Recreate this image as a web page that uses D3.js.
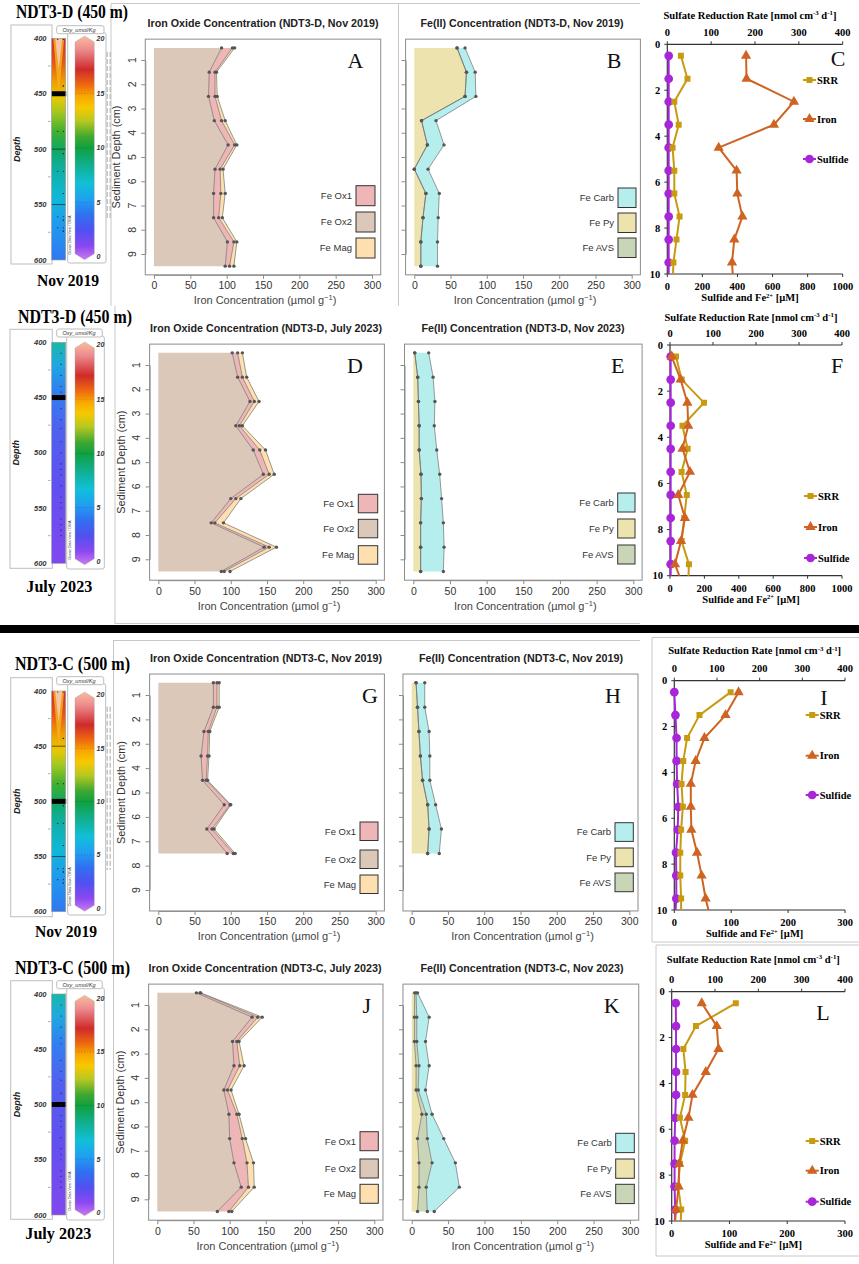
<!DOCTYPE html>
<html><head><meta charset="utf-8">
<script src="https://cdn.jsdelivr.net/npm/d3@7/dist/d3.min.js"></script>
<style>html,body{margin:0;padding:0;background:#fff;} svg{display:block}</style>
</head><body>
<svg id="fig" width="859" height="1264" xmlns="http://www.w3.org/2000/svg"></svg>
<script>
// ================= DATA =================
const depths10 = [0.5,1.5,2.5,3.5,4.5,5.5,6.5,7.5,8.5,9.5];
const depths8  = [0.5,1.5,2.5,3.5,4.5,5.5,6.5,7.5];
const depthsRate = [0.5,1.5,2.5,3.5,4.5,5.5,6.5,7.5,8.5,9.5,10.5];
const feXTicks = [0,50,100,150,200,250,300];
const feYTicks = [1,2,3,4,5,6,7,8,9];
const rateYTicks = [0,2,4,6,8,10];
const srrTicks = [0,100,200,300,400];
const conc1000Ticks = [0,200,400,600,800,1000];
const conc300Ticks = [0,100,200,300];
const odvDepthTicks = [400,450,500,550,600];
const odvMinorTicks = [425,475,525,575];
const odvOxyTicks = [0,5,10,15,20];
const oxideNames = ["Fe Ox1","Fe Ox2","Fe Mag"];
const fe2Names = ["Fe Carb","Fe Py","Fe AVS"];
const rateNames = ["SRR","Iron","Sulfide"];

// Panel A  (NDT3-D, Nov 2019) iron oxides, umol/g
const A_ox2 = [93,76,75,83,102,84,82,82,101,98];
const A_ox1 = [15,8,9,10,9,7,10,7,9,6];
const A_mag = [3,2,3,5,3,4,6,5,4,6];
// Panel B  Fe(II)
const B_py   = [59,72,70,10,18,0,16,12,9,9];
const B_avs  = [0,0,0,0,0,0,0,0,0,0];
const B_carb = [11,12,15,20,23,19,18.5,21,23,23];
// Panel C  rates
const C_srr  = [31,46,16,26,12,16,16,28,21,14,12];
const C_iron = [449,452,722,608,293,395,399,428,382,369,377];
const C_sulf = [8,8,8,8,8,8,8,8,8,8,8];
// Panel D  (NDT3-D, July 2023)
const D_ox2 = [102,109.5,126.5,107,131,145,100,73,146,87];
const D_ox1 = [7.5,6.5,6,5,9,8,7,5,7,4];
const D_mag = [6.5,6,6.5,4,8,7,7,12,10,8];
// Panel E
const E_py   = [2,6,7,8,8,10.5,11,10,10,10];
const E_avs  = [0,0,0,0,0,0,0,0,0,0];
const E_carb = [19,21,22.5,20.6,24,25.5,27.6,31,32,31];
// Panel F
const F_srr  = [14,27,79,29,41,27,39,33,27,44,42];
const F_iron = [10,62,101,106,73,116,48,87,64,29,79];
const F_sulf = [4,4,4,4,4,4,4,4,4,4,4];
// Panel G  (NDT3-C, Nov 2019)
const G_ox2 = [76,76,63,59,61,91,67,95];
const G_ox1 = [5,5,6,9,5,8,7,8.5];
const G_mag = [3,3,2,2,2,1,3,2.5];
// Panel H
const H_py   = [6,8,10,12,15,22,24,22];
const H_avs  = [0,0,0,0,0,0,0,0];
const H_carb = [12,10,14,13,10,11,17,16];
// Panel I
const I_srr  = [132,59,30,21,17,20,16,14,14,16,16];
const I_iron = [113,90,53,37.5,29,29,30,40,48,55,65];
const I_sulf = [0,2,4,4,5,7,6,3,3.5,3.5,1];
// Panel J  (NDT3-C, July 2023)
const J_ox2 = [54,131,104,106,92,99,100,106,116,83];
const J_ox1 = [5,8,6,8,5,11,17.5,18,10,16];
const J_mag = [1,6,3,6,5,3,4.5,9,8,4];
// Panel K
const K_py   = [4,3.7,3.7,6,6,14,8,10,10,8];
const K_avs  = [2,3.3,3.3,4,3,6,13.5,18,10,13.5];
const K_carb = [2,17,12,14,10,8,22.5,32,45.5,9.5];
// Panel L
const L_srr  = [148,56,27,32,31,19,31,19,15,22,20];
const L_iron = [52,78,81,59,36,29,19,13,12,7.5,4.5];
const L_sulf = [7,7.5,7.5,7.5,7.5,6,5,5,5,6,5];
// ODV sample depths (m)
const odvSamplesNov = [401,443,484,504,520,540,561,564,571,574];
const odvSamplesJul = [410,420,430,440,445,460,470,478,490,500,510,515,520,530,540,545,550,560,565,570,575];

// ================= STYLES =================
const SANS = "'Liberation Sans', Arial, Helvetica, sans-serif";
const SERIF = "'Liberation Serif', 'Times New Roman', serif";
const oxFill = {ox1:"#eeb6b6", ox2:"#dcc8b9", mag:"#fddfb0"};
const fe2Fill = {carb:"#b6eeee", py:"#ece3af", avs:"#c8d6b7"};
const rateColor = {srr:"#c89a10", iron:"#cf6422", sulf:"#a826da"};

const svg = d3.select("#fig");
const defs = svg.append("defs");

// ================= FRAMES / SEPARATOR =================
const frameCol = "#c8c8c8";
function hline(x1,x2,y,c,w){svg.append("line").attr("x1",x1).attr("x2",x2).attr("y1",y).attr("y2",y).attr("stroke",c||frameCol).attr("stroke-width",w||1);}
function vline(x,y1,y2,c,w){svg.append("line").attr("x1",x).attr("x2",x).attr("y1",y1).attr("y2",y2).attr("stroke",c||frameCol).attr("stroke-width",w||1);}
hline(111,640,3.5); vline(111,3.5,306); vline(398.5,3.5,306);
vline(115,306,624); hline(115,640,623.5);
vline(113.5,640,1264); hline(113.5,640,640.5);
hline(652,859,637.5); vline(652,637.5,942); hline(652,859,942);
hline(656,859,945); vline(656,945,1256); hline(656,859,1256);
svg.append("rect").attr("x",0).attr("y",625).attr("width",859).attr("height",8).attr("fill","#000");

// ================= ODV widgets =================
function grad(id, stops){
  const lg = defs.append("linearGradient").attr("id",id).attr("x1",0).attr("y1",0).attr("x2",0).attr("y2",1);
  stops.forEach(s=>lg.append("stop").attr("offset",s[0]).attr("stop-color",s[1]));
}
grad("cbar",[[0,"#f9bd9a"],[0.06,"#ec8c90"],[0.15,"#d02a2a"],[0.22,"#ee6a10"],[0.27,"#f8a800"],[0.32,"#f8c800"],[0.38,"#b8c820"],[0.45,"#40a830"],[0.5,"#10a040"],[0.58,"#10b090"],[0.66,"#10c0d8"],[0.73,"#20a0f0"],[0.8,"#3070f0"],[0.87,"#5050f0"],[0.94,"#8a48f0"],[1,"#cc78f0"]]);
grad("stripNov",[[0,"#d42a2a"],[0.1,"#e65018"],[0.2,"#f0a000"],[0.27,"#e8c800"],[0.33,"#a8c820"],[0.42,"#40b030"],[0.5,"#10a860"],[0.6,"#10b0a8"],[0.72,"#10b8d8"],[0.85,"#2098f0"],[1,"#3078f0"]]);
grad("stripJul",[[0,"#18b8a8"],[0.1,"#20a8e0"],[0.22,"#3080f0"],[0.4,"#5060f0"],[0.65,"#6050f0"],[1,"#8048f0"]]);

function odv(c){
  const g = svg.append("g");
  g.append("text").attr("x",c.hx).attr("y",c.hy).attr("font-family",SERIF).attr("font-weight","bold")
    .attr("font-size",18).attr("textLength",c.hw).attr("lengthAdjust","spacingAndGlyphs").text(c.header);
  g.append("text").attr("x",c.dx).attr("y",c.dy).attr("text-anchor","middle").attr("font-family",SERIF).attr("font-weight","bold")
    .attr("font-size",16).attr("textLength",c.dw).attr("lengthAdjust","spacingAndGlyphs").text(c.date);
  const f = c.frame;
  g.append("rect").attr("x",f[0]).attr("y",f[1]).attr("width",f[2]-f[0]).attr("height",f[3]-f[1]).attr("fill","none").attr("stroke","#bdbdbd");
  const yd = d3.scaleLinear().domain([400,600]).range([c.s400,c.s600]);
  const sx0 = 51.7, sx1 = 65.7;
  g.append("rect").attr("x",sx0).attr("y",yd(400)).attr("width",sx1-sx0).attr("height",yd(600)-yd(400)).attr("fill",`url(#${c.grad})`);
  if(c.vshape){
    g.append("path").attr("d",`M${sx0+1.5},${yd(400)} L${(sx0+sx1)/2},${yd(452)} L${sx1-1.5},${yd(400)} Z`).attr("fill","#f2b21c").attr("opacity",0.85);
    g.append("path").attr("d",`M${sx0+3.5},${yd(400)} L${(sx0+sx1)/2},${yd(428)} L${sx1-3.5},${yd(400)} Z`).attr("fill","#f6c4a6");
  }
  c.thin.forEach(d=>g.append("line").attr("x1",sx0).attr("x2",sx1).attr("y1",yd(d)).attr("y2",yd(d)).attr("stroke","#222").attr("stroke-width",0.7));
  g.append("rect").attr("x",sx0).attr("y",yd(c.marker)-2.5).attr("width",sx1-sx0+0.5).attr("height",5).attr("fill","#000");
  g.selectAll(null).data(c.samples).join("circle").attr("cx",(d,i)=> c.grad==="stripJul" ? 61 : (i%2? 63.3 : 57.7)).attr("cy",d=>yd(d)).attr("r",0.6).attr("fill","#222");
  if(c.grad==="stripNov"){
    c.samples.forEach(d=>g.append("circle").attr("cx",63.3).attr("cy",yd(d)).attr("r",0.6).attr("fill","#222"));
  }
  g.append("rect").attr("x",sx0).attr("y",yd(400)).attr("width",sx1-sx0).attr("height",yd(600)-yd(400)).attr("fill","none").attr("stroke","#9a9a9a").attr("stroke-width",0.6);
  odvDepthTicks.forEach(d=>{
    g.append("text").attr("x",46.5).attr("y",yd(d)).attr("dy","0.35em").attr("text-anchor","end").attr("font-family",SANS)
      .attr("font-style","italic").attr("font-weight","bold").attr("font-size",7.5).attr("fill","#333").text(d);
  });
  odvMinorTicks.forEach(d=>g.append("line").attr("x1",48).attr("x2",50.5).attr("y1",yd(d)).attr("y2",yd(d)).attr("stroke","#777").attr("stroke-width",0.6));
  g.append("text").attr("transform",`translate(${f[0]+9},${(c.s400+c.s600)/2}) rotate(-90)`).attr("text-anchor","middle")
    .attr("font-family",SANS).attr("font-style","italic").attr("font-weight","bold").attr("font-size",9).attr("fill","#222").text("Depth");
  // colorbar
  const cf = c.cframe;
  g.append("rect").attr("x",cf[0]).attr("y",cf[1]+6).attr("width",cf[2]-cf[0]).attr("height",cf[3]-cf[1]-6).attr("fill","#fff").attr("stroke","#bdbdbd").attr("rx",2);
  g.append("rect").attr("x",56.7).attr("y",cf[1]-1).attr("width",cf[2]-2-56.7).attr("height",8).attr("fill","#fff").attr("stroke","#bdbdbd").attr("rx",2);
  g.append("text").attr("x",79).attr("y",cf[1]+3).attr("dy","0.35em").attr("text-anchor","middle").attr("font-family",SANS)
    .attr("font-style","italic").attr("font-size",5.5).attr("fill","#333").text("Oxy_umol/Kg");
  const yc = d3.scaleLinear().domain([0,20]).range([c.c0,c.c20]);
  const L=75, R=94.3, M=(L+R)/2;
  g.append("path").attr("d",`M${L},${yc(20)+3} L${M},${yc(20)-3} L${R},${yc(20)+3} L${R},${yc(0)-3} L${M},${yc(0)+3} L${L},${yc(0)-3} Z`)
    .attr("fill","url(#cbar)").attr("stroke","#aaa").attr("stroke-width",0.4);
  odvOxyTicks.forEach(v=>{
    g.append("line").attr("x1",L).attr("x2",R).attr("y1",yc(v)).attr("y2",yc(v)).attr("stroke","#000").attr("stroke-width",0.3).attr("stroke-dasharray","1,2").attr("opacity",v%20?0.6:0);
    g.append("text").attr("x",96.5).attr("y",yc(v)).attr("dy","0.35em").attr("font-family",SANS).attr("font-style","italic")
      .attr("font-weight","bold").attr("font-size",7).attr("fill","#333").text(v);
  });
  g.append("text").attr("transform",`translate(71,${c.c0-2}) rotate(-90)`).attr("font-family",SANS).attr("font-size",3.6).attr("fill","#333")
    .text("Ocean Data View / DIVA");
  if(c.dashed){
    [107.2,110.2].forEach(x=>g.append("line").attr("x1",x).attr("x2",x).attr("y1",c.dashed[0]).attr("y2",c.dashed[1])
      .attr("stroke","#bbb").attr("stroke-width",1.3).attr("stroke-dasharray","5,2"));
  }
}
odv({header:"NDT3-D (450 m)",hx:16,hy:18,hw:112,date:"Nov 2019",dx:68,dy:285.5,dw:62,frame:[11,25,52,264],s400:38.3,s600:260,
  cframe:[67.7,26.7,106,263],c20:39,c0:256.7,marker:450,thin:[500,550],grad:"stripNov",vshape:true,samples:odvSamplesNov,dashed:[52,218]});
odv({header:"NDT3-D (450 m)",hx:18,hy:322.7,hw:114,date:"July 2023",dx:59.3,dy:591.5,dw:66,frame:[10,329.3,52.3,568.3],s400:342.3,s600:563.3,
  cframe:[66.7,330,104.3,569],c20:345,c0:561.7,marker:450,thin:[],grad:"stripJul",vshape:false,samples:odvSamplesJul,dashed:null});
odv({header:"NDT3-C (500 m)",hx:15,hy:670,hw:115,date:"Nov 2019",dx:66,dy:937,dw:62,frame:[10.7,677.7,52.3,916.7],s400:691,s600:911.7,
  cframe:[67.7,677.7,105.7,915],c20:695,c0:908.3,marker:500,thin:[450,550],grad:"stripNov",vshape:true,samples:odvSamplesNov,dashed:[706.7,870]});
odv({header:"NDT3-C (500 m)",hx:15,hy:973.7,hw:115,date:"July 2023",dx:58.3,dy:1238.8,dw:66,frame:[10.7,980.7,52.3,1219.3],s400:994,s600:1215,
  cframe:[66.7,981.7,104.3,1220],c20:998.3,c0:1212.7,marker:500,thin:[],grad:"stripJul",vshape:false,samples:odvSamplesJul,dashed:null});

// ================= Fe panels =================
function fePanel(c, rows, keys, fills, legendNames, legendFills){
  const g = svg.append("g");
  const x = d3.scaleLinear().domain([0,300]).range([c.x0,c.x300]);
  const y = d3.scaleLinear().domain([1,9]).range([c.y1,c.y9]);
  const L=x(-12), R=x(312), T=y(0.14), B=y(9.86);
  const series = d3.stack().keys(keys)(rows);
  const area = d3.area().y(d=>y(d.data.depth)).x0(d=>x(d[0])).x1(d=>x(d[1]));
  series.forEach((s,i)=>g.append("path").attr("d",area(s)).attr("fill",fills[i]));
  const line = d3.line().y(d=>y(d.data.depth)).x(d=>x(d[1]));
  series.forEach(s=>g.append("path").attr("d",line(s)).attr("fill","none").attr("stroke","#707070").attr("stroke-width",0.7));
  series.forEach(s=>g.selectAll(null).data(s).join("circle").attr("cx",d=>x(d[1])).attr("cy",d=>y(d.data.depth)).attr("r",1.7).attr("fill","#555"));
  g.append("rect").attr("x",L).attr("y",T).attr("width",R-L).attr("height",B-T).attr("fill","none").attr("stroke","#8c8c8c").attr("stroke-width",1);
  const xa = g.append("g").attr("transform",`translate(0,${B})`).call(d3.axisBottom(x).tickValues(feXTicks).tickSize(4).tickSizeOuter(0).tickPadding(3));
  xa.select(".domain").attr("stroke","#8c8c8c");
  xa.selectAll(".tick line").attr("stroke","#8c8c8c");
  xa.selectAll(".tick text").attr("font-family",SANS).attr("font-size",10.5).attr("fill","#333");
  const ya = g.append("g").attr("transform",`translate(${L},0)`).call(d3.axisLeft(y).tickValues(feYTicks).tickSize(4).tickSizeOuter(0).tickFormat(""));
  ya.select(".domain").attr("stroke","#8c8c8c");
  ya.selectAll(".tick line").attr("stroke","#8c8c8c");
  if(c.yLabels){
    feYTicks.forEach(t=>g.append("text").attr("transform",`translate(${L-13},${y(t)}) rotate(-90)`).attr("text-anchor","middle").attr("dy","0.35em")
      .attr("font-family",SANS).attr("font-size",10.5).attr("fill","#333").text(t));
    g.append("text").attr("transform",`translate(${L-29},${(T+B)/2}) rotate(-90)`).attr("text-anchor","middle").attr("dy","0.35em")
      .attr("font-family",SANS).attr("font-size",11.5).attr("fill","#333").attr("textLength",103).attr("lengthAdjust","spacingAndGlyphs").text("Sediment Depth (cm)");
  }
  const xt = g.append("text").attr("x",(x(0)+x(300))/2+2).attr("y",B+25.5).attr("dy","0.35em").attr("text-anchor","middle")
    .attr("font-family",SANS).attr("font-size",11).attr("fill","#444");
  xt.append("tspan").text("Iron Concentration (µmol g");
  xt.append("tspan").attr("dy","-4").attr("font-size",7.5).text("−1");
  xt.append("tspan").attr("dy","4").text(")");
  g.append("text").attr("x",c.tx).attr("y",T-16).attr("dy","0.35em").attr("text-anchor","middle").attr("font-family",SANS).attr("font-weight","bold")
    .attr("font-size",10.5).attr("fill","#222").attr("textLength",c.tw).attr("lengthAdjust","spacingAndGlyphs").text(c.title);
  g.append("text").attr("x",c.lx).attr("y",T+21).attr("dy","0.35em").attr("text-anchor","middle").attr("font-family",SERIF)
    .attr("font-size",22).attr("fill","#111").text(c.letter);
  legendNames.forEach((n,i)=>{
    g.append("rect").attr("x",c.leg.x).attr("y",c.leg.ys[i]).attr("width",c.leg.w).attr("height",c.leg.h).attr("fill",legendFills[i]).attr("stroke","#333").attr("stroke-width",1);
    g.append("text").attr("x",c.leg.x-4).attr("y",c.leg.ys[i]+c.leg.h/2).attr("dy","0.35em").attr("text-anchor","end")
      .attr("font-family",SANS).attr("font-size",9.5).attr("fill","#333").text(n);
  });
}
function oxRows(dep,ox2,ox1,mag){return dep.map((d,i)=>({depth:d,ox2:ox2[i],ox1:ox1[i],mag:mag[i]}));}
function f2Rows(dep,py,avs,carb){return dep.map((d,i)=>({depth:d,py:py[i],avs:avs[i],carb:carb[i]}));}
const oxKeys=["ox2","ox1","mag"], oxFills=[oxFill.ox2,oxFill.ox1,oxFill.mag], oxLeg=[oxFill.ox1,oxFill.ox2,oxFill.mag];
const f2Keys=["py","avs","carb"], f2Fills=[fe2Fill.py,fe2Fill.avs,fe2Fill.carb], f2Leg=[fe2Fill.carb,fe2Fill.py,fe2Fill.avs];

fePanel({x0:154,x300:372,y1:60,y9:254,yLabels:true,title:"Iron Oxide Concentration (NDT3-D, Nov 2019)",tx:263,tw:231,letter:"A",lx:355.5,
  leg:{x:356,w:19,h:20,ys:[185.7,212,238]}}, oxRows(depths10,A_ox2,A_ox1,A_mag), oxKeys, oxFills, oxideNames, oxLeg);
fePanel({x0:414.3,x300:631.7,y1:60,y9:254,yLabels:false,title:"Fe(II) Concentration (NDT3-D, Nov 2019)",tx:522,tw:203,letter:"B",lx:614,
  leg:{x:618,w:18,h:19.5,ys:[188,213,238]}}, f2Rows(depths10,B_py,B_avs,B_carb), f2Keys, f2Fills, fe2Names, f2Leg);
fePanel({x0:158.3,x300:375.7,y1:365,y9:559.3,yLabels:true,title:"Iron Oxide Concentration (NDT3-D, July 2023)",tx:266,tw:232,letter:"D",lx:355,
  leg:{x:358.3,w:19.4,h:18.5,ys:[494.3,519.3,545.7]}}, oxRows(depths10,D_ox2,D_ox1,D_mag), oxKeys, oxFills, oxideNames, oxLeg);
fePanel({x0:413.3,x300:633.3,y1:365,y9:559.3,yLabels:false,title:"Fe(II) Concentration (NDT3-D, Nov 2023)",tx:523,tw:203,letter:"E",lx:617.7,
  leg:{x:617.7,w:17.3,h:19,ys:[493,519,545]}}, f2Rows(depths10,E_py,E_avs,E_carb), f2Keys, f2Fills, fe2Names, f2Leg);
fePanel({x0:158.3,x300:375.7,y1:695,y9:890,yLabels:true,title:"Iron Oxide Concentration (NDT3-C, Nov 2019)",tx:266,tw:232,letter:"G",lx:370,
  leg:{x:360,w:18,h:18.5,ys:[822,850,875]}}, oxRows(depths8,G_ox2,G_ox1,G_mag), oxKeys, oxFills, oxideNames, oxLeg);
fePanel({x0:411.7,x300:629.3,y1:695,y9:890,yLabels:false,title:"Fe(II) Concentration (NDT3-C, Nov 2019)",tx:521,tw:204,letter:"H",lx:613,
  leg:{x:615,w:18.3,h:18.7,ys:[822.7,848,873]}}, f2Rows(depths8,H_py,H_avs,H_carb), f2Keys, f2Fills, fe2Names, f2Leg);
fePanel({x0:157.3,x300:374.3,y1:1005,y9:1199.3,yLabels:true,title:"Iron Oxide Concentration (NDT3-C, July 2023)",tx:265,tw:233,letter:"J",lx:366.7,
  leg:{x:360,w:18.3,h:19,ys:[1131.7,1159,1184.3]}}, oxRows(depths10,J_ox2,J_ox1,J_mag), oxKeys, oxFills, oxideNames, oxLeg);
fePanel({x0:411.7,x300:630,y1:1005,y9:1199.3,yLabels:false,title:"Fe(II) Concentration (NDT3-C, Nov 2023)",tx:522,tw:203,letter:"K",lx:611.7,
  leg:{x:615.7,w:18.6,h:19.3,ys:[1133.3,1159,1184.3]}}, f2Rows(depths10,K_py,K_avs,K_carb), f2Keys, f2Fills, fe2Names, f2Leg);

// ================= Rate panels =================
let clipN = 0;
function ratePanel(c, srr, iron, sulf){
  const g = svg.append("g");
  const y = d3.scaleLinear().domain([0,10]).range([c.top,c.bottom]);
  const xt = d3.scaleLinear().domain([0,400]).range([c.left,c.right]);
  const xb = d3.scaleLinear().domain([0,c.bmax]).range([c.left,c.right]);
  const id = "rclip"+(clipN++);
  defs.append("clipPath").attr("id",id).append("rect").attr("x",c.left-20).attr("y",c.top).attr("width",c.right-c.left+40).attr("height",c.bottom-c.top);
  const axCol = "#333";
  g.append("line").attr("x1",c.left).attr("x2",c.left).attr("y1",c.top).attr("y2",c.bottom).attr("stroke",axCol).attr("stroke-width",1.2);
  g.append("line").attr("x1",c.left).attr("x2",c.right).attr("y1",c.top).attr("y2",c.top).attr("stroke",axCol).attr("stroke-width",1.2);
  g.append("line").attr("x1",c.left).attr("x2",c.right).attr("y1",c.bottom).attr("y2",c.bottom).attr("stroke",axCol).attr("stroke-width",1.2);
  rateYTicks.forEach(t=>{
    g.append("line").attr("x1",c.left-3).attr("x2",c.left).attr("y1",y(t)).attr("y2",y(t)).attr("stroke",axCol);
    g.append("text").attr("x",c.left-7).attr("y",y(t)).attr("dy","0.35em").attr("text-anchor","end").attr("font-family",SERIF).attr("font-weight","bold").attr("font-size",10.5).text(t);
  });
  srrTicks.forEach(t=>{
    g.append("line").attr("x1",xt(t)).attr("x2",xt(t)).attr("y1",c.top-3).attr("y2",c.top).attr("stroke",axCol);
    g.append("text").attr("x",xt(t)).attr("y",c.top-12).attr("dy","0.35em").attr("text-anchor","middle").attr("font-family",SERIF).attr("font-weight","bold").attr("font-size",10.5).text(t);
  });
  c.bticks.forEach(t=>{
    g.append("line").attr("x1",xb(t)).attr("x2",xb(t)).attr("y1",c.bottom).attr("y2",c.bottom+3).attr("stroke",axCol);
    g.append("text").attr("x",xb(t)).attr("y",c.bottom+12.5).attr("dy","0.35em").attr("text-anchor","middle").attr("font-family",SERIF).attr("font-weight","bold").attr("font-size",10.5).text(t);
  });
  const tt = g.append("text").attr("x",(c.left+c.right)/2-5).attr("y",c.top+c.titleDy).attr("dy","0.35em").attr("text-anchor","middle")
    .attr("font-family",SERIF).attr("font-weight","bold").attr("font-size",10).attr("textLength",173).attr("lengthAdjust","spacingAndGlyphs");
  tt.append("tspan").text("Sulfate Reduction Rate [nmol cm");
  tt.append("tspan").attr("dy",-3.5).attr("font-size",6.5).text("-3");
  tt.append("tspan").attr("dy",3.5).text(" d");
  tt.append("tspan").attr("dy",-3.5).attr("font-size",6.5).text("-1");
  tt.append("tspan").attr("dy",3.5).text("]");
  const bt = g.append("text").attr("x",(c.left+c.right)/2-5).attr("y",c.bottom+23.5).attr("dy","0.35em").attr("text-anchor","middle")
    .attr("font-family",SERIF).attr("font-weight","bold").attr("font-size",10.5);
  bt.append("tspan").text("Sulfide and Fe");
  bt.append("tspan").attr("dy",-3.5).attr("font-size",6.5).text("2+");
  bt.append("tspan").attr("dy",3.5).text(" [µM]");
  const pg = g.append("g").attr("clip-path",`url(#${id})`);
  const defsS = [
    {vals:srr, sx:xt, col:rateColor.srr, sym:d3.symbolSquare, size:36},
    {vals:iron, sx:xb, col:rateColor.iron, sym:d3.symbolTriangle, size:46},
    {vals:sulf, sx:xb, col:rateColor.sulf, sym:d3.symbolCircle, size:60}];
  [defsS[2],defsS[0],defsS[1]].forEach(s=>{
    pg.append("path").attr("d",d3.line().x((v,i)=>s.sx(v)).y((v,i)=>y(depthsRate[i]))(s.vals)).attr("fill","none").attr("stroke",s.col).attr("stroke-width",2);
    pg.selectAll(null).data(s.vals).join("path").attr("transform",(v,i)=>`translate(${s.sx(v)},${y(depthsRate[i])})`)
      .attr("d",d3.symbol().type(s.sym).size(s.size)).attr("fill",s.col);
  });
  defsS.forEach((s,i)=>{
    const ly = c.legY[i];
    g.append("line").attr("x1",c.legX).attr("x2",c.legX+13).attr("y1",ly).attr("y2",ly).attr("stroke",s.col).attr("stroke-width",2);
    g.append("path").attr("transform",`translate(${c.legX+6.5},${ly})`).attr("d",d3.symbol().type(s.sym).size(s.size)).attr("fill",s.col);
    g.append("text").attr("x",c.legX+14).attr("y",ly).attr("dy","0.35em").attr("font-family",SERIF).attr("font-weight","bold").attr("font-size",10.5).text(rateNames[i]);
  });
  g.append("text").attr("x",c.lx).attr("y",c.ly).attr("dy","0.35em").attr("text-anchor","middle").attr("font-family",SERIF).attr("font-size",22).attr("fill","#111").text(c.letter);
}
ratePanel({left:667.3,right:842.7,top:44.3,bottom:274,bmax:1000,bticks:conc1000Ticks,titleDy:-29.3,legX:803,legY:[80,119,159],letter:"C",lx:838,ly:58}, C_srr, C_iron, C_sulf);
ratePanel({left:670,right:842,top:345,bottom:575.7,bmax:1000,bticks:conc1000Ticks,titleDy:-28,legX:804,legY:[496,527,558],letter:"F",lx:837,ly:365}, F_srr, F_iron, F_sulf);
ratePanel({left:674.3,right:845,top:680.7,bottom:910,bmax:300,bticks:conc300Ticks,titleDy:-30,legX:805.7,legY:[715,755.7,795],letter:"I",lx:824,ly:697}, I_srr, I_iron, I_sulf);
ratePanel({left:671.7,right:845,top:991.7,bottom:1221,bmax:300,bticks:conc300Ticks,titleDy:-32.7,legX:805.7,legY:[1141,1170.7,1201.7],letter:"L",lx:823,ly:1012}, L_srr, L_iron, L_sulf);
</script>
</body></html>
